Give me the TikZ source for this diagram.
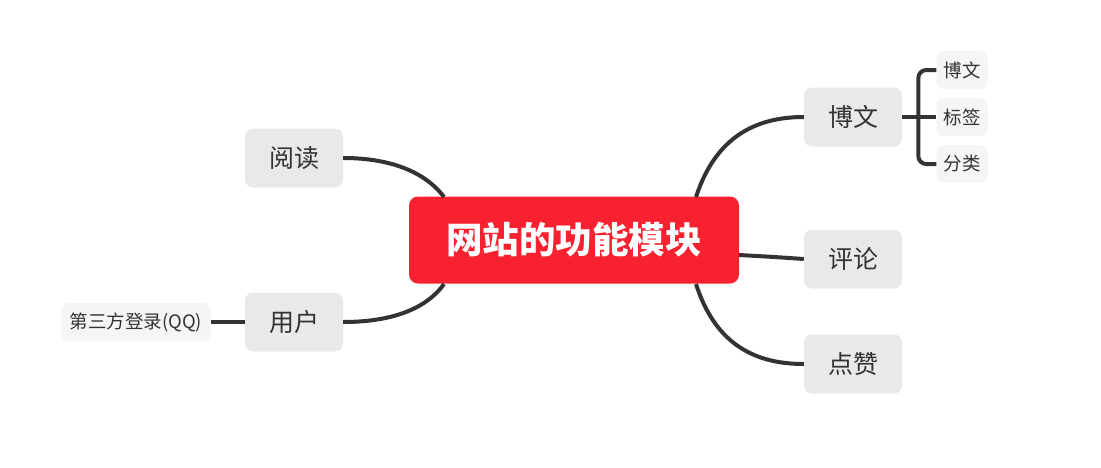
\documentclass[tikz,border=0pt]{standalone}
\usepackage{fontspec}
\setmainfont{Noto Sans CJK SC}
\definecolor{rootred}{HTML}{F7212F}
\definecolor{topicgray}{HTML}{E9E9E9}
\definecolor{subgray}{HTML}{F5F5F5}
\definecolor{linegray}{HTML}{333333}
\begin{document}
\begin{tikzpicture}[x=1pt,y=-1pt,
	root/.style={fill=rootred,rounded corners=9pt,minimum width=330pt,minimum height=87pt,text=white,font=\fontsize{36.5}{36.5}\selectfont\bfseries},
	topic/.style={fill=topicgray,rounded corners=8pt,minimum width=98pt,minimum height=59pt,text=linegray,font=\fontsize{25}{25}\selectfont},
	subtopic/.style={fill=subgray,rounded corners=7pt,minimum height=38pt,inner xsep=4pt,text=linegray,font=\fontsize{18.5}{18.5}\selectfont},
	link/.style={draw=linegray,line width=4pt}]
	\useasboundingbox (0,0) rectangle (1101,467);
	\node[root] (site) at (574,240) {网站的功能模块};
	\node[topic] (read) at (294,158) {阅读};
	\node[topic] (user) at (294,322) {用户};
	\node[topic] (blog) at (853,117) {博文};
	\node[topic] (comment) at (853,259) {评论};
	\node[topic] (like) at (853,364) {点赞};
	\node[subtopic,minimum width=149pt] (login) at (136,322) {第三方登录(QQ)};
	\node[subtopic,minimum width=51pt] (post) at (962,70) {博文};
	\node[subtopic,minimum width=51pt] (tag) at (962,117) {标签};
	\node[subtopic,minimum width=51pt] (cat) at (962,164) {分类};
	\coordinate (siteNW) at (444,197);
	\coordinate (siteSW) at (444,284);
	\coordinate (siteNE) at (696,197);
	\coordinate (siteSE) at (696,284);
	\coordinate (siteE) at (739,255);
	\draw[link] (read.east) .. controls (400,158) and (430,178) .. (siteNW);
	\draw[link] (user.east) .. controls (400,322) and (430,304) .. (siteSW);
	\draw[link] (siteNE) .. controls (714,142) and (750,117) .. (blog.west);
	\draw[link] (siteE) .. controls (775,257) .. (comment.west);
	\draw[link] (siteSE) .. controls (714,340) and (750,364) .. (like.west);
	\draw[link] (login.east) -- (user.west);
	\draw[link] (blog.east) -- (tag.west);
	\draw[link,rounded corners=8pt] (post.west) -- ++(-18,0) |- (cat.west);
\end{tikzpicture}
\end{document}
